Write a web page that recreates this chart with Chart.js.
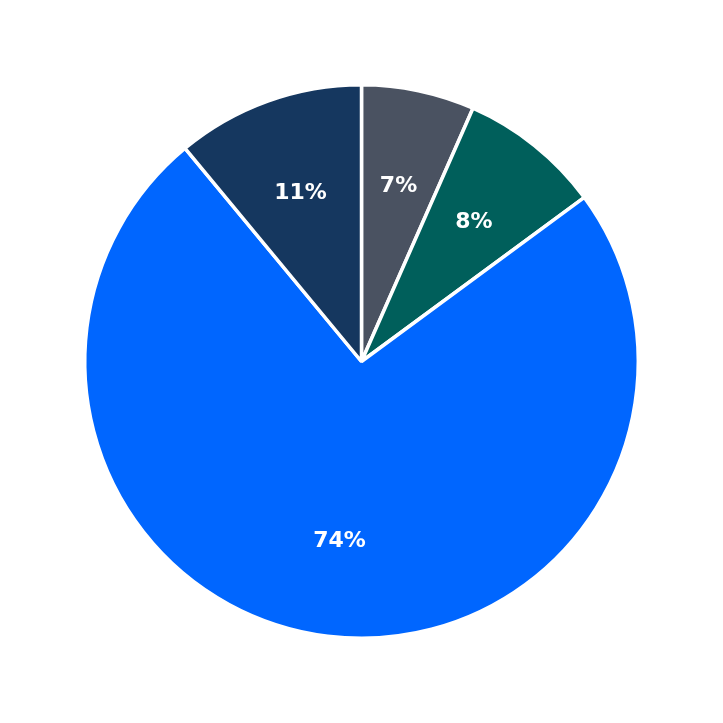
<!DOCTYPE html>
<html>
<head>
<meta charset="UTF-8">
<title>Pie</title>
<script src="https://cdn.jsdelivr.net/npm/chart.js"></script>
<style>
  html, body { margin: 0; padding: 0; background: #fff; }
  #wrap { width: 723px; height: 723px; }
</style>
</head>
<body>
<div id="wrap"><canvas id="pie" width="723" height="723"></canvas></div>
<script>
// slices, clockwise from the top
const categories = ['A', 'B', 'C', 'D'];
const values = [6.6, 8.3, 74.1, 11.0];
const labels = ['7%', '8%', '74%', '11%'];
const colors = ['#4a5261', '#005f5b', '#0066ff', '#15375f'];

// write the percentage text inside each slice
const sliceLabels = {
    id: 'sliceLabels',
    afterDatasetsDraw(chart) {
        const ctx = chart.ctx;
        const arcs = chart.getDatasetMeta(0).data;
        ctx.save();
        ctx.fillStyle = '#ffffff';
        ctx.font = 'bold 22px "DejaVu Sans"';
        ctx.textAlign = 'center';
        ctx.textBaseline = 'middle';
        arcs.forEach((arc, i) => {
            const p = arc.getProps(['x', 'y', 'startAngle', 'endAngle', 'outerRadius'], true);
            const mid = (p.startAngle + p.endAngle) / 2;
            const r = p.outerRadius * 0.65;
            ctx.fillText(labels[i], p.x + Math.cos(mid) * r, p.y + Math.sin(mid) * r + 1);
        });
        ctx.restore();
    }
};

new Chart(document.getElementById('pie'), {
    type: 'pie',
    data: {
        labels: categories,
        datasets: [{
            data: values,
            backgroundColor: colors,
            borderColor: '#ffffff',
            borderWidth: 3.5
        }]
    },
    options: {
        responsive: false,
        animation: false,
        layout: { padding: { top: 83, bottom: 83, left: 83, right: 83 } },
        plugins: {
            legend: { display: false },
            tooltip: { enabled: false }
        }
    },
    plugins: [sliceLabels]
});
</script>
</body>
</html>
